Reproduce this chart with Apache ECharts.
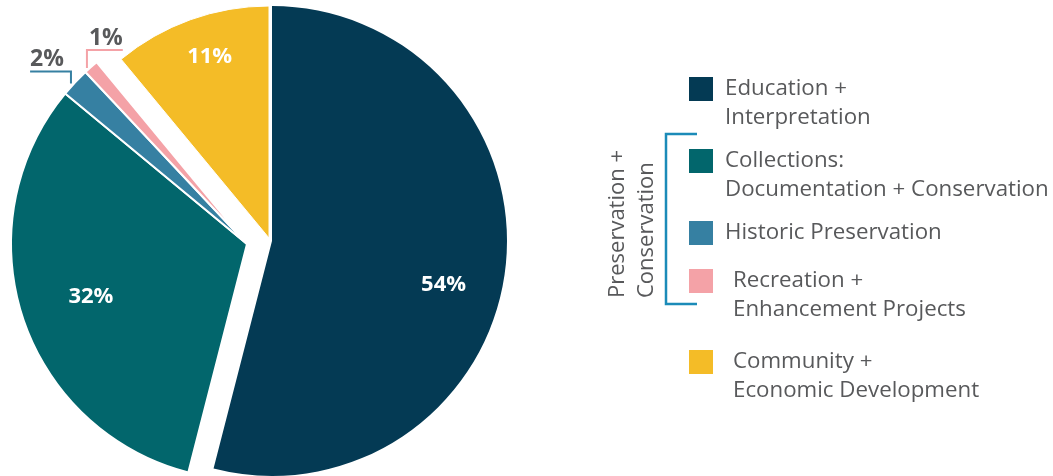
<!DOCTYPE html>
<html><head><meta charset="utf-8">
<script src="https://cdn.jsdelivr.net/npm/echarts@6/dist/echarts.min.js"></script>
<style>html,body{margin:0;padding:0;background:#fff}#c{width:1053px;height:476px}</style>
</head><body><div id="c"></div>
<script>
// ---- data ----
const categories = [
  'Education +\nInterpretation',
  'Collections:\nDocumentation + Conservation',
  'Historic Preservation',
  'Recreation +\nEnhancement Projects',
  'Community +\nEconomic Development'
];
const values = [54, 32, 2, 1, 11];
const colors = ['#043a54', '#02666c', '#3680a2', '#f4a2a7', '#f4bc27'];
const groupLabel = 'Preservation +\nConservation';
// which exploded piece each category belongs to
const pieceOf = [0, 1, 1, 1, 2];

// ---- layout / style ----
const pieces = [
  { center: [272, 241], radius: 235, border: 0 },
  { center: [247, 244], radius: 236, border: 2 },
  { center: [269, 238], radius: 232, border: 1 }
];
const outsideLabel = [false, false, true, true, false];
const insideNudge = { 0: [52, 29], 1: [-41, 15], 4: [-19, -69] };
const legendIconTop = [77, 149, 221, 269, 350];
const legendIndent = [7, 7, 7, 15, 15];
const textGray = '#58595b';
const font = 'Open Sans';

function labelLayoutFor(p) {
  const i = p.dataIndex;
  const r = p.labelRect;
  if (outsideLabel[i]) {
    const P = p.labelLinePoints ? p.labelLinePoints[0] : [r.x, r.y];
    const vx = P[0] - 4;
    if (i === 2) {
      const lineY = P[1] - 11;
      return {
        x: vx - 7, y: lineY - 12, align: 'right', verticalAlign: 'middle',
        labelLinePoints: [[vx, P[1] + 1], [vx, lineY], [vx - 7 - r.width, lineY]]
      };
    }
    const lineY = P[1] - 17;
    return {
      x: vx + 2, y: lineY - 12, align: 'left', verticalAlign: 'middle',
      labelLinePoints: [[vx, P[1] + 1], [vx, lineY], [vx + 2 + r.width, lineY]]
    };
  }
  const n = insideNudge[i] || [0, 0];
  return { x: r.x + r.width / 2 + n[0], y: r.y + r.height / 2 + n[1], align: 'center', verticalAlign: 'middle' };
}

function makeSeries(p, k) {
  return {
    type: 'pie', center: p.center, radius: p.radius, startAngle: 90, clockwise: true,
    avoidLabelOverlap: false, silent: true, animation: false,
    label: { show: true, position: 'inside', formatter: '{c}%', color: '#fff',
             fontFamily: font, fontWeight: 700, fontSize: 22 },
    labelLine: { show: false },
    labelLayout: labelLayoutFor,
    emphasis: { disabled: true },
    data: values.map((v, i) => {
      const own = pieceOf[i] === k;
      const item = { name: categories[i], value: v };
      if (own) {
        item.itemStyle = { color: colors[i], borderColor: '#fff', borderWidth: p.border };
        if (outsideLabel[i]) {
          item.label = { show: true, position: 'outside', color: textGray, fontSize: 23 };
          item.labelLine = { show: true, length: 10, length2: 10, smooth: false,
                             lineStyle: { color: colors[i], width: 2 } };
        }
      } else {
        item.itemStyle = { color: 'rgba(0,0,0,0)', borderWidth: 0 };
        item.label = { show: false };
        item.labelLine = { show: false };
      }
      return item;
    })
  };
}

const legends = categories.map((name, i) => {
  const multi = name.indexOf('\n') >= 0;
  return {
    data: [{ name: name, itemStyle: { color: colors[i], borderWidth: 0 } }],
    formatter: n => (multi ? '\n' : '') + n,
    left: 689, top: legendIconTop[i] - (multi ? 31.5 : 2.5),
    orient: 'vertical', icon: 'rect', itemWidth: 24, itemHeight: 24, padding: 0,
    selectedMode: false,
    textStyle: { fontFamily: font, fontSize: 22.3, lineHeight: 29, color: textGray,
                 padding: [0, 0, 0, legendIndent[i]] }
  };
});

const chart = echarts.init(document.getElementById('c'), null, { renderer: 'canvas' });
chart.setOption({
  animation: false,
  backgroundColor: '#fff',
  legend: legends,
  series: pieces.map(makeSeries),
  graphic: [
    { type: 'polyline', silent: true,
      shape: { points: [[697, 134], [666, 134], [666, 304], [697, 304]] },
      style: { stroke: '#1b8bb8', lineWidth: 2.5, fill: null } },
    { type: 'text', silent: true, x: 603, y: 298, rotation: Math.PI / 2,
      style: { text: groupLabel, fontFamily: font, fontSize: 22, lineHeight: 29,
               fill: textGray, align: 'left', verticalAlign: 'top' } }
  ]
});
</script>
</body></html>
